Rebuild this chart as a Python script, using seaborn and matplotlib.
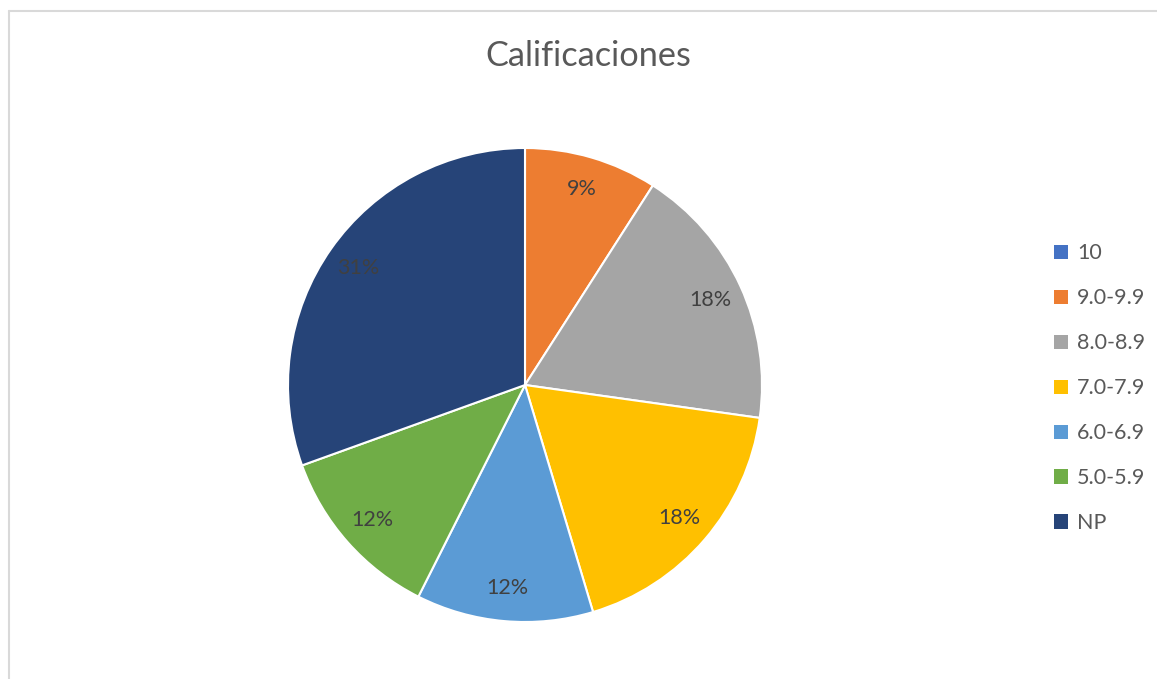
import matplotlib
matplotlib.use("Agg")
import matplotlib.pyplot as plt
import seaborn as sns
from matplotlib.patches import Patch
from matplotlib.lines import Line2D

categories = ["10", "9.0-9.9", "8.0-8.9", "7.0-7.9", "6.0-6.9", "5.0-5.9", "NP"]
percentages = [0, 9.1, 18.2, 18.2, 12.1, 12.1, 30.6]
colors = ["#4472C4", "#ED7D31", "#A5A5A5", "#FFC000", "#5B9BD5", "#70AD47", "#264478"]
title = "Calificaciones"

sns.set_theme(style="white")
plt.rcParams["font.family"] = ["Lato", "DejaVu Sans"]

W, H = 1157, 679
fig = plt.figure(figsize=(W / 100, H / 100), dpi=100)
fig.patch.set_facecolor("white")

# chart border (top and left visible)
fig.add_artist(Line2D([9 / W, 1], [1 - 11 / H, 1 - 11 / H], color="#D9D9D9", lw=1.5))
fig.add_artist(Line2D([9 / W, 9 / W], [0, 1 - 11 / H], color="#D9D9D9", lw=1.5))

cx, cy, r = 525, 385, 237
ax = fig.add_axes([(cx - r) / W, (H - cy - r) / H, 2 * r / W, 2 * r / H])
palette = sns.color_palette(colors)

def fmt(p):
    return f"{p:.0f}%" if p >= 0.5 else ""

wedges, texts, autotexts = ax.pie(
    percentages, colors=palette, startangle=90, counterclock=False,
    autopct=fmt, pctdistance=0.86, radius=1,
    wedgeprops=dict(edgecolor="white", linewidth=1.5),
    textprops=dict(color="#404040", fontsize=15.5),
)
ax.set_xlim(-1, 1)
ax.set_ylim(-1, 1)
ax.set_aspect("equal")
ax.axis("off")

fig.text(588 / W, 1 - 56 / H, title, ha="center", va="center",
         fontsize=24.7, color="#595959")

handles = [Patch(facecolor=c, edgecolor="none") for c in colors]
leg = fig.legend(handles, categories, loc="upper left",
                 bbox_to_anchor=(1035 / W, 1 - 224 / H), frameon=False,
                 fontsize=15.5, handlelength=0.65, handleheight=0.65,
                 handletextpad=0.4, labelspacing=1.16, labelcolor="#595959")

fig.savefig("out.png", dpi=100, facecolor="white")
